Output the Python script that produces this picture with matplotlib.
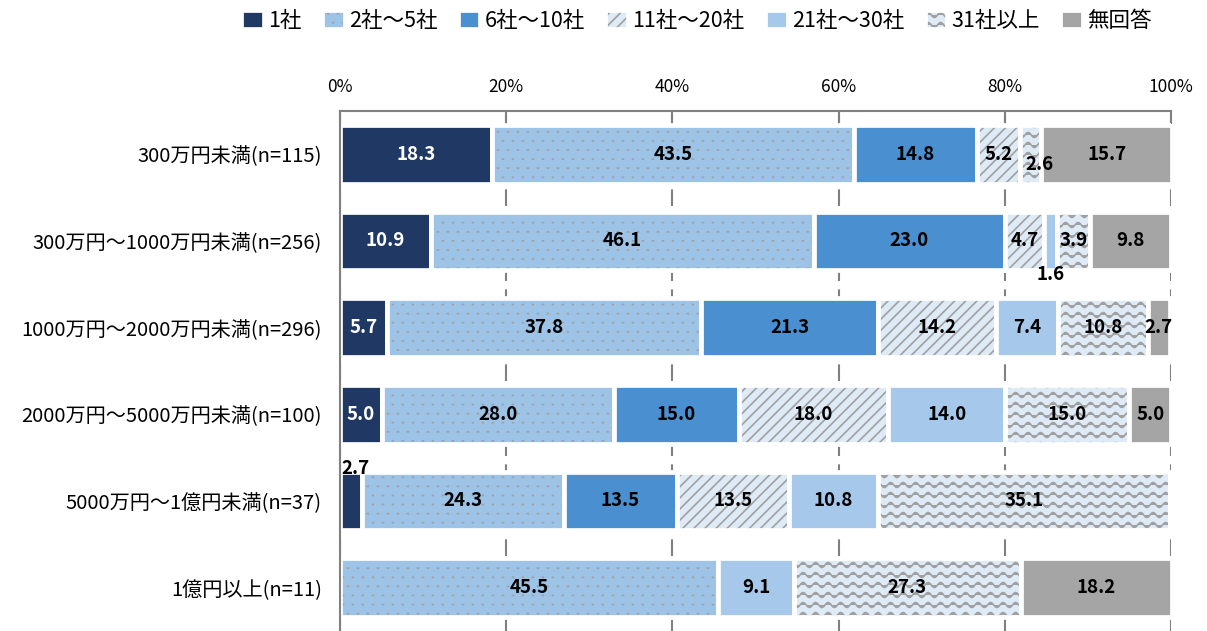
import warnings
import numpy as np
import matplotlib
matplotlib.use("Agg")
import matplotlib.pyplot as plt
import matplotlib.hatch as mhatch
from matplotlib.path import Path
from matplotlib.colors import to_rgba

warnings.filterwarnings("ignore")

categories = [
    "300万円未満(n=115)",
    "300万円～1000万円未満(n=256)",
    "1000万円～2000万円未満(n=296)",
    "2000万円～5000万円未満(n=100)",
    "5000万円～1億円未満(n=37)",
    "1億円以上(n=11)",
]
series = ["1社", "2社～5社", "6社～10社", "11社～20社", "21社～30社", "31社以上", "無回答"]

s_1 = [18.3, 10.9, 5.7, 5.0, 2.7, 0.0]
s_2_5 = [43.5, 46.1, 37.8, 28.0, 24.3, 45.5]
s_6_10 = [14.8, 23.0, 21.3, 15.0, 13.5, 0.0]
s_11_20 = [5.2, 4.7, 14.2, 18.0, 13.5, 0.0]
s_21_30 = [0.0, 1.6, 7.4, 14.0, 10.8, 9.1]
s_31 = [2.6, 3.9, 10.8, 15.0, 35.1, 27.3]
s_none = [15.7, 9.8, 2.7, 5.0, 0.0, 18.2]
values = [s_1, s_2_5, s_6_10, s_11_20, s_21_30, s_31, s_none]

colors = ["#203864", "#9DC3E6", "#4A90D0", "#DEEBF7", "#A6C8EA", "#DEEBF7", "#A5A5A5"]
hatches = [None, ":", None, "///", None, "~", None]
HATCH_GRAY = "#A0A0A0"

# label nudges in pixels (row, series) -> (dx, dy), dy positive = down
nudges = {(0, 5): (9, 10), (1, 4): (0, 33), (4, 0): (4, -32)}


class WaveHatch(mhatch.HatchPatternBase):
    """Wavy horizontal lines, used with '~'."""
    def __init__(self, hatch, density):
        self.num_lines = 10 if "~" in hatch else 0
        self.periods = 8
        self.pts = self.periods * 12 + 1
        self.num_vertices = self.num_lines * self.pts

    def set_vertices_and_codes(self, vertices, codes):
        x = np.linspace(0, 1, self.pts)
        for i in range(self.num_lines):
            y0 = (i + 0.5) / self.num_lines
            seg = slice(i * self.pts, (i + 1) * self.pts)
            vertices[seg, 0] = x
            vertices[seg, 1] = y0 + 0.025 * np.sin(2 * np.pi * self.periods * x)
            codes[seg] = Path.LINETO
            codes[i * self.pts] = Path.MOVETO


class DotHatch(mhatch.HatchPatternBase):
    """Sparse grid of small dots, used with ':'."""
    def __init__(self, hatch, density):
        self.rows = 11 if ":" in hatch else 0
        self.cols = 10
        self.num_vertices = self.rows * self.cols * 2

    def set_vertices_and_codes(self, vertices, codes):
        n = 0
        for r in range(self.rows):
            for c in range(self.cols):
                x0 = (c + 0.25 + 0.5 * (r % 2)) / self.cols
                y0 = (r + 0.5) / self.rows
                vertices[n] = (x0, y0)
                vertices[n + 1] = (x0 + 0.008, y0)
                codes[n] = Path.MOVETO
                codes[n + 1] = Path.LINETO
                n += 2


mhatch._hatch_types.extend([WaveHatch, DotHatch])

plt.rcParams["font.family"] = ["Noto Sans CJK JP", "DejaVu Sans"]
plt.rcParams["hatch.linewidth"] = 1.2

fig = plt.figure(figsize=(12.07, 6.31), dpi=100)
ax = fig.add_axes([340 / 1207, 0.0, 831 / 1207, 1 - 111 / 631])

y = np.arange(len(categories))
left = np.zeros(len(categories))
handles = []
for k, name in enumerate(series):
    vals = np.array(values[k])
    bars = ax.barh(y, vals, left=left, height=0.675, color=colors[k],
                   edgecolor="white", linewidth=3.4, hatch=hatches[k],
                   label=name, zorder=2)
    if hatches[k]:
        for p in bars.patches:
            if hasattr(p, "set_hatchcolor"):
                p.set_hatchcolor(HATCH_GRAY)
            else:
                p._hatch_color = to_rgba(HATCH_GRAY)
    handles.append(bars)
    for i, v in enumerate(vals):
        if v <= 0:
            continue
        dx, dy = nudges.get((i, k), (0, 0))
        inside = (i, k) not in nudges or (i, k) == (0, 5)
        ax.annotate(f"{v:.1f}", (left[i] + v / 2, i), xytext=(dx, -dy),
                    textcoords="offset pixels", ha="center", va="center",
                    fontsize=13.5, fontweight="bold",
                    color="white" if (k == 0 and inside) else "black", zorder=5)
    left += vals

ax.set_xlim(0, 100)
ax.set_ylim(5.5, -0.5)
ax.set_yticks(y)
ax.set_yticklabels(categories, fontsize=14.5)
ax.set_xticks(np.arange(0, 101, 20))
ax.set_xticklabels([f"{t}%" for t in range(0, 101, 20)], fontsize=12.5)
ax.xaxis.tick_top()
ax.tick_params(axis="x", direction="in", length=9, width=1.5, color="#808080", pad=11)
ax.tick_params(axis="y", length=0, pad=13)

ax.set_axisbelow(True)
ax.xaxis.grid(True, color="#808080", linewidth=1.5, linestyle=(0, (8, 4)))
for side in ["bottom", "right"]:
    ax.spines[side].set_visible(False)
for side in ["top", "left"]:
    ax.spines[side].set_color("#808080")
    ax.spines[side].set_linewidth(1.5)

fig.legend(handles=handles, loc="center", bbox_to_anchor=(0.577, 1 - 21 / 631),
           ncol=7, frameon=False, fontsize=15.5, handlelength=1.05,
           handleheight=1.0, handletextpad=0.2, columnspacing=0.95)

fig.savefig("out.png", dpi=100)
